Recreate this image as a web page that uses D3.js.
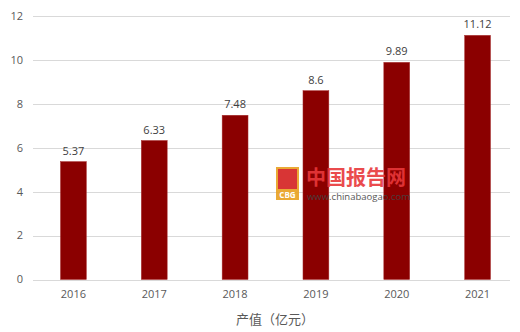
<html>
<head>
<meta charset="UTF-8">
<script src="https://d3js.org/d3.v7.min.js"></script>
<style>
  body { margin: 0; background: #fff; }
  text { font-family: "Open Sans", "Noto Sans CJK SC", sans-serif; }
</style>
</head>
<body>
<svg id="chart" width="520" height="332"></svg>
<script>
// data
const years = ["2016", "2017", "2018", "2019", "2020", "2021"];
const values = [5.37, 6.33, 7.48, 8.6, 9.89, 11.12];
const valueLabels = ["5.37", "6.33", "7.48", "8.6", "9.89", "11.12"];
const yTicks = [0, 2, 4, 6, 8, 10, 12];
const axisTitle = "产值（亿元）";

let svg = d3.select("svg#chart");
let margins = {top: 16, right: 2, bottom: 52, left: 33};
let width = +svg.attr("width");
let height = +svg.attr("height");

let x = d3.scaleBand()
  .domain(years)
  .range([margins.left, width - margins.right])
  .paddingInner(0.68)
  .paddingOuter(0.34);

let y = d3.scaleLinear()
  .domain([0, 12])
  .range([height - margins.bottom - 0.5, margins.top]);

// gridlines
svg.append("g")
  .selectAll("line")
  .data(yTicks)
  .join("line")
  .attr("x1", margins.left)
  .attr("x2", 510)
  .attr("y1", d => Math.round(y(d)) + 0.5)
  .attr("y2", d => Math.round(y(d)) + 0.5)
  .attr("stroke", "#d9d9d9")
  .attr("stroke-width", 1);

// y tick labels
svg.append("g")
  .selectAll("text")
  .data(yTicks)
  .join("text")
  .attr("x", 23)
  .attr("y", d => y(d))
  .attr("dy", "0.35em")
  .attr("text-anchor", "end")
  .attr("font-size", 11)
  .attr("fill", "#595959")
  .text(d => d);

// bars
svg.append("g")
  .selectAll("rect")
  .data(values)
  .join("rect")
  .attr("x", (d, i) => x(years[i]))
  .attr("width", x.bandwidth())
  .attr("y", d => y(d))
  .attr("height", d => y(0) - y(d))
  .attr("fill", "#8b0000")
  .attr("stroke", "#a83030")
  .attr("stroke-width", 0.5);

// value labels
svg.append("g")
  .selectAll("text")
  .data(values)
  .join("text")
  .attr("x", (d, i) => x(years[i]) + x.bandwidth() / 2)
  .attr("y", d => y(d) - 7)
  .attr("text-anchor", "middle")
  .attr("font-size", 11)
  .attr("fill", "#404040")
  .text((d, i) => valueLabels[i]);

// watermark, drawn over the bars
let wm = svg.append("g").attr("opacity", 0.9);
wm.append("rect").attr("x", 276).attr("y", 167).attr("width", 23).attr("height", 33).attr("fill", "#e8a020");
wm.append("rect").attr("x", 278).attr("y", 169).attr("width", 19).attr("height", 20).attr("fill", "#d42020");
wm.append("text").attr("x", 287.5).attr("y", 198).attr("text-anchor", "middle")
  .attr("font-size", 8).attr("font-weight", "bold").attr("fill", "#fff").text("CBG");
wm.append("text").attr("x", 306).attr("y", 185).attr("font-size", 20)
  .attr("font-family", "Noto Sans CJK SC").attr("font-weight", "bold").attr("fill", "#e8383a").text("中国报告网");
wm.append("text").attr("x", 307).attr("y", 200).attr("font-size", 9.5)
  .attr("fill", "#444").text("www.chinabaogao.com");

// x tick labels
svg.append("g")
  .selectAll("text")
  .data(years)
  .join("text")
  .attr("x", d => x(d) + x.bandwidth() / 2)
  .attr("y", 298)
  .attr("text-anchor", "middle")
  .attr("font-size", 11)
  .attr("fill", "#595959")
  .text(d => d);

// axis title
svg.append("text")
  .attr("x", 275)
  .attr("y", 324)
  .attr("text-anchor", "middle")
  .attr("font-size", 13)
  .attr("font-family", "Noto Sans CJK SC")
  .attr("fill", "#595959")
  .text(axisTitle);
</script>
</body>
</html>
